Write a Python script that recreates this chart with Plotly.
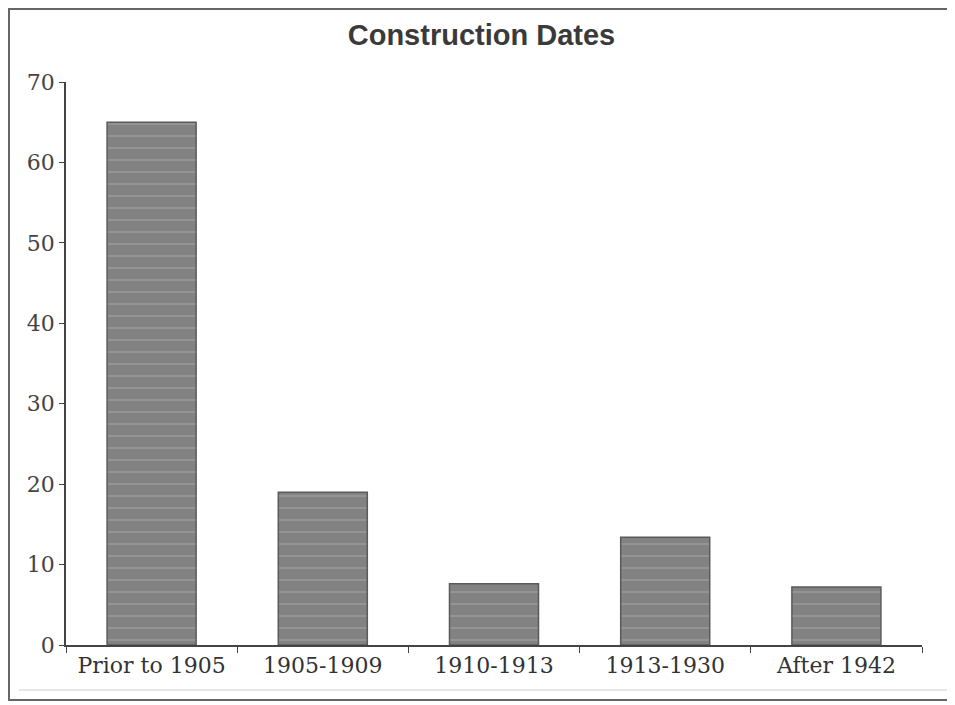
import plotly.graph_objects as go

categories = ["Prior to 1905", "1905-1909", "1910-1913", "1913-1930", "After 1942"]
values = [65, 19, 7.6, 13.4, 7.2]
y_ticks = [0, 10, 20, 30, 40, 50, 60, 70]

fig = go.Figure()
fig.add_trace(go.Bar(
    x=categories, y=values, width=0.52,
    marker=dict(color="#828282", line=dict(color="#5a5a5a", width=1.5),
                pattern=dict(shape="-", fgcolor="#b5b5b5", bgcolor="#828282", size=12, solidity=0.12)),
))

fig.update_layout(
    width=947, height=697,
    paper_bgcolor="white", plot_bgcolor="white",
    margin=dict(l=58, r=33, t=74, b=60),
    title=dict(text="<b>Construction Dates</b>", x=0.5, xanchor="center", y=0.962, yanchor="middle",
               font=dict(family="Liberation Sans", size=29, color="#3a3a3a")),
    showlegend=False,
    xaxis=dict(showline=True, linecolor="#444", linewidth=1.5, ticks="outside", tickson="boundaries",
               ticklen=6, tickcolor="#444", range=[-0.5, 4.5],
               tickfont=dict(family="DejaVu Serif", size=22, color="#333"), showgrid=False),
    yaxis=dict(showline=True, linecolor="#444", linewidth=1.5, ticks="outside", ticklen=5, tickcolor="#444",
               range=[0, 70], tickvals=y_ticks, showgrid=False, zeroline=False,
               tickfont=dict(family="DejaVu Serif", size=22, color="#444")),
    shapes=[
        dict(type="rect", xref="paper", yref="paper", x0=-0.0666, x1=1.035, y0=-0.0977, y1=1.1297,
             line=dict(color="#666", width=2)),
        dict(type="line", xref="paper", yref="paper", x0=-0.055, x1=1.035, y0=-0.08, y1=-0.08,
             line=dict(color="#ccc", width=1)),
    ],
)

fig.write_html("out.html")
